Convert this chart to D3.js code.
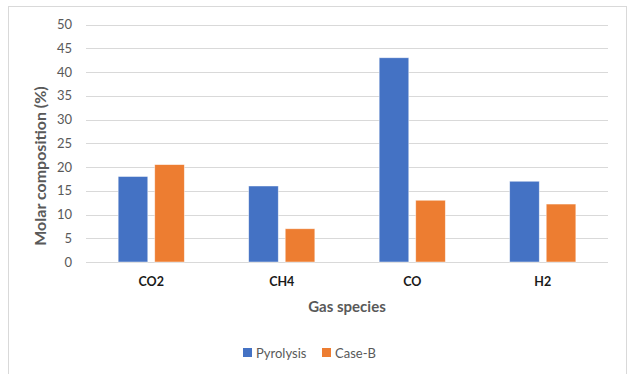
<!DOCTYPE html>
<html>
<head>
<meta charset="utf-8">
<script src="https://cdn.jsdelivr.net/npm/d3@7"></script>
<style>
  html, body { margin: 0; padding: 0; background: #fff; }
  svg { display: block; font-family: Lato, "Open Sans", sans-serif; }
</style>
</head>
<body>
<svg id="chart" width="629" height="374"></svg>
<script>
// Gas composition by species
const categories = ["CO2", "CH4", "CO", "H2"];
const seriesNames = ["Pyrolysis", "Case-B"];
const pyrolysis = [18, 16, 43, 17];
const caseB = [20.5, 7, 13, 12.2];
const yTicks = [0, 5, 10, 15, 20, 25, 30, 35, 40, 45, 50];
const colors = ["#4472C4", "#ED7D31"];

const svg = d3.select("#chart");

// chart frame
svg.append("rect")
  .attr("x", 8.5).attr("y", 6.5)
  .attr("width", 618).attr("height", 380)
  .attr("fill", "#fff").attr("stroke", "#d9d9d9").attr("stroke-width", 1);

const plot = { left: 86, right: 608, top: 24.5, bottom: 262 };

const x0 = d3.scaleBand().domain(categories).range([plot.left, plot.right]).paddingInner(0).paddingOuter(0);
const x1 = d3.scaleBand().domain(seriesNames).range([0, x0.bandwidth()]).paddingInner(0.19).paddingOuter(0.88);
const y = d3.scaleLinear().domain([0, 50]).range([plot.bottom, plot.top]);

// horizontal gridlines
svg.append("g").selectAll("line").data(yTicks).join("line")
  .attr("x1", plot.left).attr("x2", plot.right)
  .attr("y1", d => Math.round(y(d)) + 0.5).attr("y2", d => Math.round(y(d)) + 0.5)
  .attr("stroke", "#d9d9d9").attr("stroke-width", 1);

// y axis tick labels
const yAxis = d3.axisLeft(y).tickValues(yTicks).tickSize(0).tickPadding(0);
const yg = svg.append("g").attr("transform", `translate(${plot.left - 14},0)`).call(yAxis);
yg.select(".domain").remove();
yg.selectAll("text").attr("font-size", 13).attr("fill", "#595959").attr("font-family", "Lato, sans-serif");

// bars
const rows = categories.map((c, i) => ({ cat: c, vals: [pyrolysis[i], caseB[i]] }));
const groups = svg.append("g").selectAll("g").data(rows).join("g")
  .attr("transform", d => `translate(${x0(d.cat)},0)`);
groups.selectAll("rect")
  .data(d => d.vals.map((v, j) => ({ name: seriesNames[j], v, j })))
  .join("rect")
  .attr("x", d => x1(d.name))
  .attr("y", d => y(d.v))
  .attr("width", x1.bandwidth())
  .attr("height", d => y(0) - y(d.v))
  .attr("fill", d => colors[d.j])
  .attr("stroke", "#ffffff").attr("stroke-opacity", 0.6).attr("stroke-width", 0.75);

// x axis category labels
const xAxis = d3.axisBottom(x0).tickSize(0).tickPadding(0);
const xg = svg.append("g").attr("transform", `translate(0,${plot.bottom + 15})`).call(xAxis);
xg.select(".domain").remove();
xg.selectAll("text").attr("font-size", 12.5).attr("font-weight", "bold").attr("fill", "#1a1a1a").attr("font-family", "Lato, sans-serif");

// axis titles
svg.append("text")
  .attr("x", (plot.left + plot.right) / 2).attr("y", 312)
  .attr("text-anchor", "middle").attr("font-size", 15).attr("font-weight", "bold").attr("fill", "#595959")
  .text("Gas species");

svg.append("text")
  .attr("transform", "translate(46,166) rotate(-90)")
  .attr("text-anchor", "middle").attr("font-size", 16).attr("font-weight", "bold").attr("fill", "#595959")
  .text("Molar composition (%)");

// legend
const legendItems = [{ name: "Pyrolysis", x: 243 }, { name: "Case-B", x: 322 }];
const lg = svg.append("g").selectAll("g").data(legendItems).join("g")
  .attr("transform", d => `translate(${d.x},0)`);
lg.append("rect").attr("x", 0).attr("y", 348).attr("width", 9).attr("height", 9)
  .attr("fill", (d, i) => colors[i]);
lg.append("text").attr("x", 13).attr("y", 357.5)
  .attr("font-size", 13).attr("fill", "#595959").text(d => d.name);
</script>
</body>
</html>
